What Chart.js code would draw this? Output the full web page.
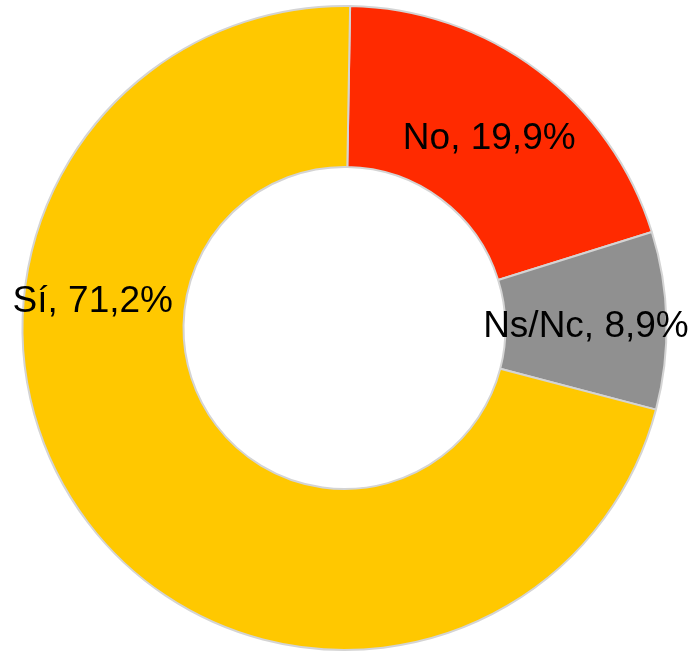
<!DOCTYPE html>
<html>
<head>
<meta charset="utf-8">
<script src="https://cdn.jsdelivr.net/npm/chart.js@4"></script>
<style>
  html, body { margin: 0; padding: 0; background: #fff; }
  #wrap { width: 691px; height: 657px; position: relative; }
</style>
</head>
<body>
<div id="wrap"><canvas id="myChart" width="691" height="657"></canvas></div>
<script>
// answers, in drawing order (clockwise from the top)
const labels = ['No', 'Ns/Nc', 'Sí'];
const values = [19.9, 8.9, 71.2];
const colors = ['#ff2a00', '#909090', '#ffc800'];
// where the label sits: null = middle of the slice, else an angle (deg from top)
const labelAngle = [null, null, 276.8];

const fmt = v => v.toFixed(1).replace('.', ',') + '%';

const sliceLabels = {
    id: 'sliceLabels',
    afterDatasetsDraw(chart) {
        const ctx = chart.ctx;
        const meta = chart.getDatasetMeta(0);
        ctx.save();
        ctx.font = '37px "Liberation Sans", Arial, sans-serif';
        ctx.fillStyle = '#000';
        ctx.textAlign = 'center';
        ctx.textBaseline = 'middle';
        meta.data.forEach((arc, i) => {
            let p = arc.tooltipPosition();
            if (labelAngle[i] !== null) {
                const a = labelAngle[i] * Math.PI / 180;
                const r = (arc.innerRadius + arc.outerRadius) / 2 + 12;
                p = { x: arc.x + r * Math.sin(a), y: arc.y - r * Math.cos(a) };
            }
            ctx.fillText(labels[i] + ', ' + fmt(values[i]), p.x, p.y + 4);
        });
        ctx.restore();
    }
};

new Chart(document.getElementById('myChart'), {
    type: 'doughnut',
    data: {
        labels,
        datasets: [{
            data: values,
            backgroundColor: colors,
            borderColor: '#d4d4d4',
            borderWidth: 2
        }]
    },
    options: {
        responsive: false,
        animation: false,
        devicePixelRatio: 1,
        cutout: '50%',
        rotation: 1,
        layout: { padding: { left: 21, right: 23, top: 5, bottom: 6 } },
        plugins: {
            legend: { display: false },
            tooltip: { enabled: false }
        }
    },
    plugins: [sliceLabels]
});
</script>
</body>
</html>
